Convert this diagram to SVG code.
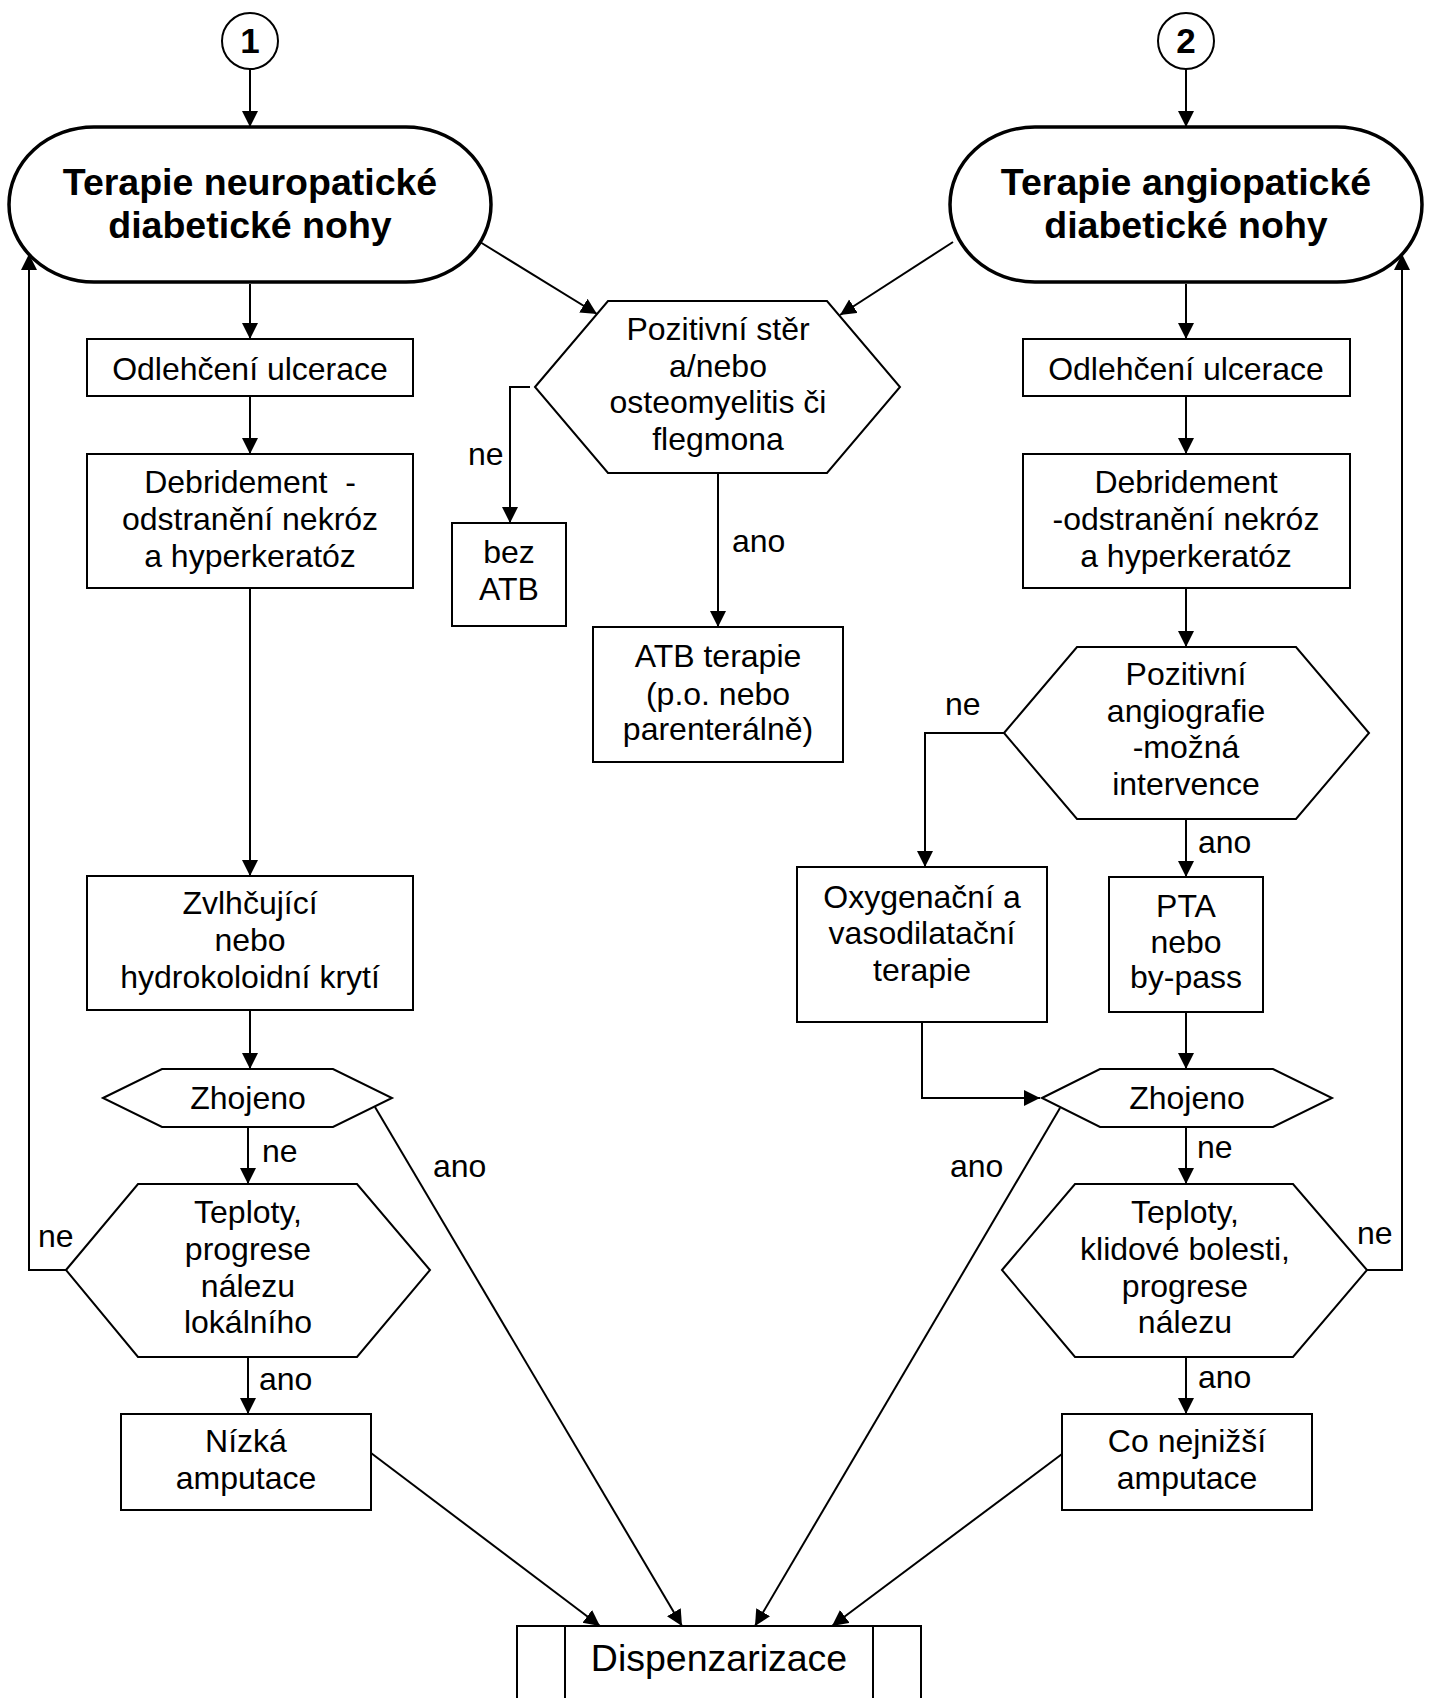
<svg xmlns="http://www.w3.org/2000/svg" width="1433" height="1698" viewBox="0 0 1433 1698">
<style>
.bg{fill:#fff}
.box{fill:#fff;stroke:#000;stroke-width:2}
.term{fill:#fff;stroke:#000;stroke-width:3.5}
.t{font-family:"Liberation Sans",Arial,sans-serif;font-size:32px;text-anchor:middle;fill:#000}
.tb{font-weight:bold;font-size:37.5px}
.num{font-weight:bold;font-size:35px}
.big{font-size:37.5px}
.lbl{font-family:"Liberation Sans",Arial,sans-serif;font-size:32px;fill:#000}
.c{fill:none;stroke:#000;stroke-width:2}
</style>
<defs>
<marker id="ah" markerUnits="userSpaceOnUse" markerWidth="17" markerHeight="17" refX="16" refY="8" orient="auto">
<path d="M0,0 L16,8 L0,16 z" fill="#000"/>
</marker>
</defs>
<rect class="bg" x="0" y="0" width="1433" height="1698"/>

<g id="connectors">
<line class="c" x1="250" y1="69" x2="250" y2="127" marker-end="url(#ah)"/>
<line class="c" x1="1186" y1="69" x2="1186" y2="127" marker-end="url(#ah)"/>
<line class="c" x1="250" y1="284" x2="250" y2="339" marker-end="url(#ah)"/>
<line class="c" x1="1186" y1="284" x2="1186" y2="339" marker-end="url(#ah)"/>
<line class="c" x1="250" y1="396" x2="250" y2="454" marker-end="url(#ah)"/>
<line class="c" x1="1186" y1="396" x2="1186" y2="454" marker-end="url(#ah)"/>
<line class="c" x1="250" y1="588" x2="250" y2="876" marker-end="url(#ah)"/>
<line class="c" x1="250" y1="1010" x2="250" y2="1069" marker-end="url(#ah)"/>
<line class="c" x1="248" y1="1127" x2="248" y2="1184" marker-end="url(#ah)"/>
<line class="c" x1="248" y1="1357" x2="248" y2="1414" marker-end="url(#ah)"/>
<polyline class="c" points="66,1270 29,1270 29,254" marker-end="url(#ah)"/>
<line class="c" x1="480" y1="242" x2="597" y2="314" marker-end="url(#ah)"/>
<line class="c" x1="953" y1="242" x2="840" y2="315" marker-end="url(#ah)"/>
<polyline class="c" points="530,387 510,387 510,523" marker-end="url(#ah)"/>
<line class="c" x1="718" y1="473" x2="718" y2="627" marker-end="url(#ah)"/>
<line class="c" x1="1186" y1="588" x2="1186" y2="647" marker-end="url(#ah)"/>
<polyline class="c" points="1004,733 925,733 925,867" marker-end="url(#ah)"/>
<line class="c" x1="1186" y1="819" x2="1186" y2="877" marker-end="url(#ah)"/>
<line class="c" x1="1186" y1="1012" x2="1186" y2="1069" marker-end="url(#ah)"/>
<polyline class="c" points="922,1022 922,1098 1040,1098" marker-end="url(#ah)"/>
<line class="c" x1="1186" y1="1127" x2="1186" y2="1184" marker-end="url(#ah)"/>
<line class="c" x1="1186" y1="1357" x2="1186" y2="1414" marker-end="url(#ah)"/>
<polyline class="c" points="1367,1270 1402,1270 1402,254" marker-end="url(#ah)"/>
<line class="c" x1="371" y1="1453" x2="600" y2="1626" marker-end="url(#ah)"/>
<line class="c" x1="375" y1="1107" x2="682" y2="1626" marker-end="url(#ah)"/>
<line class="c" x1="1060" y1="1108" x2="755" y2="1626" marker-end="url(#ah)"/>
<line class="c" x1="1062" y1="1454" x2="832" y2="1626" marker-end="url(#ah)"/>
<text class="lbl" x="468" y="465">ne</text>
<text class="lbl" x="732" y="552">ano</text>
<text class="lbl" x="945" y="715">ne</text>
<text class="lbl" x="1198" y="853">ano</text>
<text class="lbl" x="262" y="1162">ne</text>
<text class="lbl" x="1197" y="1158">ne</text>
<text class="lbl" x="38" y="1247">ne</text>
<text class="lbl" x="1357" y="1244">ne</text>
<text class="lbl" x="433" y="1177">ano</text>
<text class="lbl" x="950" y="1177">ano</text>
<text class="lbl" x="259" y="1390">ano</text>
<text class="lbl" x="1198" y="1388">ano</text>
</g>

<g id="start1">
<circle class="box" cx="250" cy="41" r="28"/>
<text class="t num" x="250" y="53">1</text>
</g>
<g id="start2">
<circle class="box" cx="1186" cy="41" r="28"/>
<text class="t num" x="1186" y="53">2</text>
</g>

<g id="term-neuro">
<rect class="term" x="9" y="127" width="482" height="155" rx="85" ry="77.5"/>
<text class="t tb" x="250" y="195">Terapie neuropatické</text>
<text class="t tb" x="250" y="238">diabetické nohy</text>
</g>
<g id="term-angio">
<rect class="term" x="950" y="127" width="472" height="155" rx="85" ry="77.5"/>
<text class="t tb" x="1186" y="195">Terapie angiopatické</text>
<text class="t tb" x="1186" y="238">diabetické nohy</text>
</g>

<g id="odl-left">
<rect class="box" x="87" y="339" width="326" height="57"/>
<text class="t" x="250" y="380">Odlehčení ulcerace</text>
</g>
<g id="odl-right">
<rect class="box" x="1023" y="339" width="327" height="57"/>
<text class="t" x="1186" y="380">Odlehčení ulcerace</text>
</g>

<g id="deb-left">
<rect class="box" x="87" y="454" width="326" height="134"/>
<text class="t" x="250" y="493" style="white-space:pre">Debridement  -</text>
<text class="t" x="250" y="530">odstranění nekróz</text>
<text class="t" x="250" y="567">a hyperkeratóz</text>
</g>
<g id="deb-right">
<rect class="box" x="1023" y="454" width="327" height="134"/>
<text class="t" x="1186" y="493">Debridement</text>
<text class="t" x="1186" y="530">-odstranění nekróz</text>
<text class="t" x="1186" y="567">a hyperkeratóz</text>
</g>

<g id="hex-ster">
<polygon class="box" points="535,387 608,301 827,301 900,387 827,473 608,473"/>
<text class="t" x="718" y="340">Pozitivní stěr</text>
<text class="t" x="718" y="377">a/nebo</text>
<text class="t" x="718" y="413">osteomyelitis či</text>
<text class="t" x="718" y="450">flegmona</text>
</g>
<g id="bez-atb">
<rect class="box" x="452" y="523" width="114" height="103"/>
<text class="t" x="509" y="563">bez</text>
<text class="t" x="509" y="600">ATB</text>
</g>
<g id="atb-ter">
<rect class="box" x="593" y="627" width="250" height="135"/>
<text class="t" x="718" y="667">ATB terapie</text>
<text class="t" x="718" y="705">(p.o. nebo</text>
<text class="t" x="718" y="740">parenterálně)</text>
</g>

<g id="zvlh">
<rect class="box" x="87" y="876" width="326" height="134"/>
<text class="t" x="250" y="914">Zvlhčující</text>
<text class="t" x="250" y="951">nebo</text>
<text class="t" x="250" y="988">hydrokoloidní krytí</text>
</g>

<g id="hex-angio">
<polygon class="box" points="1004,733 1077,647 1296,647 1369,733 1296,819 1077,819"/>
<text class="t" x="1186" y="685">Pozitivní</text>
<text class="t" x="1186" y="722">angiografie</text>
<text class="t" x="1186" y="758">-možná</text>
<text class="t" x="1186" y="795">intervence</text>
</g>
<g id="oxy">
<rect class="box" x="797" y="867" width="250" height="155"/>
<text class="t" x="922" y="908">Oxygenační a</text>
<text class="t" x="922" y="944">vasodilatační</text>
<text class="t" x="922" y="981">terapie</text>
</g>
<g id="pta">
<rect class="box" x="1109" y="877" width="154" height="135"/>
<text class="t" x="1186" y="917">PTA</text>
<text class="t" x="1186" y="953">nebo</text>
<text class="t" x="1186" y="988">by-pass</text>
</g>

<g id="zhoj-left">
<polygon class="box" points="103,1098 162,1069 333,1069 392,1098 333,1127 162,1127"/>
<text class="t" x="248" y="1109">Zhojeno</text>
</g>
<g id="zhoj-right">
<polygon class="box" points="1042,1098 1100,1069 1273,1069 1332,1098 1273,1127 1100,1127"/>
<text class="t" x="1187" y="1109">Zhojeno</text>
</g>

<g id="tep-left">
<polygon class="box" points="66,1270 138,1184 357,1184 430,1270 357,1357 138,1357"/>
<text class="t" x="248" y="1223">Teploty,</text>
<text class="t" x="248" y="1260">progrese</text>
<text class="t" x="248" y="1297">nálezu</text>
<text class="t" x="248" y="1333">lokálního</text>
</g>
<g id="tep-right">
<polygon class="box" points="1002,1270 1075,1184 1293,1184 1367,1270 1293,1357 1075,1357"/>
<text class="t" x="1185" y="1223">Teploty,</text>
<text class="t" x="1185" y="1260">klidové bolesti,</text>
<text class="t" x="1185" y="1297">progrese</text>
<text class="t" x="1185" y="1333">nálezu</text>
</g>

<g id="nizka">
<rect class="box" x="121" y="1414" width="250" height="96"/>
<text class="t" x="246" y="1452">Nízká</text>
<text class="t" x="246" y="1489">amputace</text>
</g>
<g id="nejnizsi">
<rect class="box" x="1062" y="1414" width="250" height="96"/>
<text class="t" x="1187" y="1452">Co nejnižší</text>
<text class="t" x="1187" y="1489">amputace</text>
</g>

<g id="dispenz">
<rect class="box" x="517" y="1626" width="404" height="90"/>
<line class="c" x1="565" y1="1626" x2="565" y2="1716"/>
<line class="c" x1="873" y1="1626" x2="873" y2="1716"/>
<text class="t big" x="719" y="1671">Dispenzarizace</text>
</g>
</svg>
